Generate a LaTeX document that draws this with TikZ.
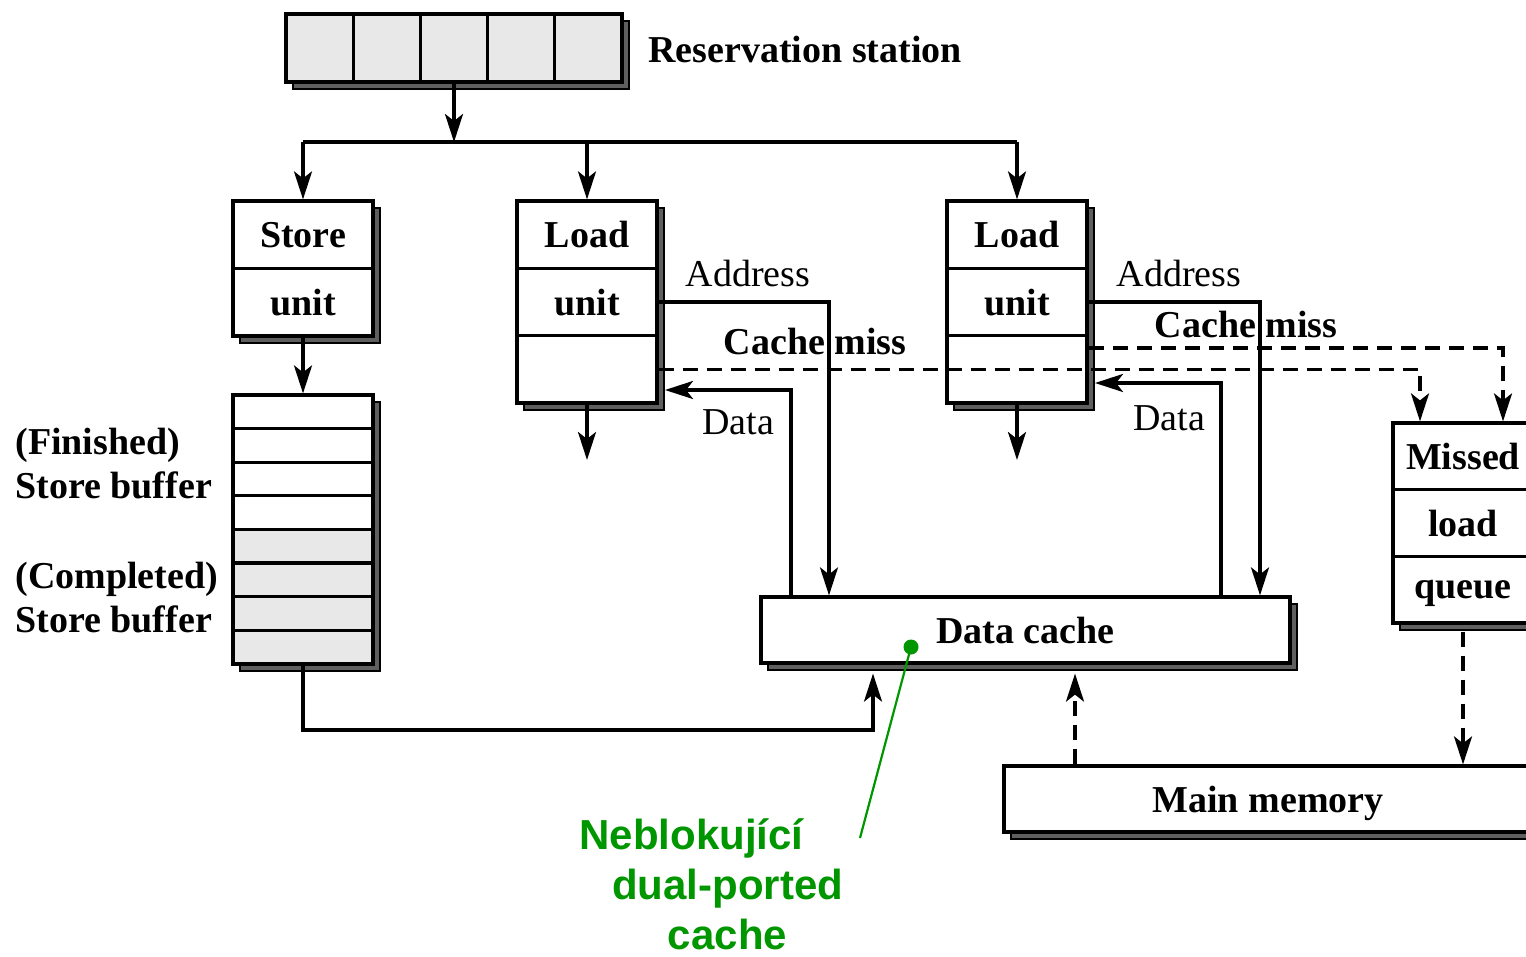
\documentclass[tikz,border=0pt]{standalone}
\usepackage{fontspec}
\setmainfont{Liberation Serif}
\newfontfamily\grfont{Liberation Sans}
\usetikzlibrary{arrows.meta,shadows}
\definecolor{cellgray}{RGB}{232,232,232}
\definecolor{shadowgray}{RGB}{95,95,95}
\definecolor{annot}{RGB}{0,150,0}
\begin{document}
\begin{tikzpicture}[x=0.5pt,y=-0.5pt,
  lw/.style={line width=1.6pt},
  frame/.style={draw, lw, fill=white, inner sep=0pt, text depth=0pt,
    copy shadow={fill=shadowgray, draw=black, line width=1.1pt, shadow xshift=3.5pt, shadow yshift=-3.5pt}},
  cell/.style={draw, lw, inner sep=0pt, text depth=0pt, font=\fontsize{19}{22}\selectfont\bfseries},
  lbl/.style={inner sep=0pt, font=\fontsize{19}{22}\selectfont},
  blbl/.style={inner sep=0pt, font=\fontsize{19}{22}\selectfont\bfseries},
  glbl/.style={inner sep=0pt, anchor=base, text=annot, font=\grfont\fontsize{21}{25}\selectfont\bfseries},
  arr/.style={lw, -{Stealth[length=14pt,width=9pt,inset=3.5pt]}},
  darr/.style={arr, dash pattern=on 7.5pt off 4.5pt},
]
\useasboundingbox (0,0) rectangle (1526,957);
\clip (0,0) rectangle (1526,957);

% Reservation station
\node[frame, fill=cellgray, minimum width=168pt, minimum height=34pt] (rs) at (454,48) {};
\foreach \i/\x in {1/319.6,2/386.8,3/454,4/521.2,5/588.4}
  \node[cell, fill=cellgray, minimum width=33.6pt, minimum height=34pt] (rs\i) at (\x,48) {};
\node[blbl, anchor=west] (rslbl) at (648,50) {Reservation station};

% Store unit
\node[frame, minimum width=70pt, minimum height=67.5pt] (su) at (303,268.5) {};
\node[cell, minimum width=70pt, minimum height=33.75pt] (su1) at (303,234.75) {Store};
\node[cell, minimum width=70pt, minimum height=33.75pt] (su2) at (303,302.25) {unit};

% Store buffer
\node[frame, minimum width=70pt, minimum height=134.5pt] (sb) at (303,529.5) {};
\foreach \k/\y/\f in {1/411.8/white,2/445.4/white,3/479.1/white,4/512.7/white,5/546.3/cellgray,6/579.9/cellgray,7/613.6/cellgray,8/647.2/cellgray}
  \node[cell, fill=\f, minimum width=70pt, minimum height=16.8125pt] (sb\k) at (303,\y) {};
\node[blbl, align=left, anchor=west] (finl) at (15,464) {(Finished)\\Store buffer};
\node[blbl, align=left, anchor=west] (coml) at (15,598) {(Completed)\\Store buffer};

% Load units
\node[frame, minimum width=70pt, minimum height=101pt] (lu1) at (587,302) {};
\node[cell, minimum width=70pt, minimum height=33.67pt] (lu1a) at (587,234.67) {Load};
\node[cell, minimum width=70pt, minimum height=33.67pt] (lu1u) at (587,302) {unit};
\node[cell, minimum width=70pt, minimum height=33.67pt] (lu1c) at (587,369.33) {};

\node[frame, minimum width=70pt, minimum height=101pt] (lu2) at (1017,302) {};
\node[cell, minimum width=70pt, minimum height=33.67pt] (lu2a) at (1017,234.67) {Load};
\node[cell, minimum width=70pt, minimum height=33.67pt] (lu2u) at (1017,302) {unit};
\node[cell, minimum width=70pt, minimum height=33.67pt] (lu2c) at (1017,369.33) {};

% Missed load queue
\node[frame, minimum width=70pt, minimum height=100pt] (mlq) at (1463,523) {};
\node[cell, minimum width=70pt, minimum height=33.33pt] (mlq1) at (1463,456.3) {Missed};
\node[cell, minimum width=70pt, minimum height=33.33pt] (mlq2) at (1463,523) {load};
\node[cell, minimum width=70pt, minimum height=33.33pt] (mlq3) at (1463,589.7) {queue};

% Data cache, main memory
\node[frame, minimum width=264.5pt, minimum height=33pt, font=\fontsize{19}{22}\selectfont\bfseries] (dc) at (1025.5,630) {Data cache};
\node[frame, minimum width=264pt, minimum height=33pt, font=\fontsize{19}{22}\selectfont\bfseries] (mm) at (1268,799) {Main memory};

% labels
\node[lbl] (ad1) at (748,274) {Address};
\node[lbl] (ad2) at (1179,274) {Address};
\node[blbl] (cml1) at (815,342) {Cache miss};
\node[blbl] (cml2) at (1246,325) {Cache miss};
\node[lbl] (dl1) at (738,422) {Data};
\node[lbl] (dl2) at (1169,418) {Data};

% bus from reservation station
\coordinate (bus) at (454,142);
\draw[arr] (rs.south) -- (bus);
\draw[lw] (bus -| su.north) -- (bus -| lu2.north);
\draw[arr] (bus -| su.north) -- (su.north);
\draw[arr] (bus -| lu1.north) -- (lu1.north);
\draw[arr] (bus -| lu2.north) -- (lu2.north);

\draw[arr] (su.south) -- (sb.north);
\coordinate (lo1) at (587,460);
\coordinate (lo2) at (1017,460);
\draw[arr] (lu1.south) -- (lo1);
\draw[arr] (lu2.south) -- (lo2);

% store buffer -> data cache
\coordinate (dcb) at ([yshift=-4.5pt]dc.south);
\coordinate (sbturn) at (303,730);
\coordinate (x873) at (873,0);
\draw[arr] (sb.south) -- (sbturn) -| (dcb -| x873);

% address lines
\coordinate (a1) at (829,0);
\coordinate (a2) at (1260,0);
\draw[arr] (lu1u.east) -| (dc.north -| a1);
\draw[arr] (lu2u.east) -| (dc.north -| a2);

% data lines
\coordinate (d1) at (791,390);
\coordinate (d1e) at (665,390);
\coordinate (d2) at (1221,383);
\coordinate (d2e) at (1095,383);
\draw[arr] (dc.north -| d1) |- (d1e);
\draw[arr] (dc.north -| d2) |- (d2e);

% cache miss lines
\coordinate (cm1) at (1420,0);
\coordinate (cm2) at (1503,348);
\draw[darr] (lu1c.east) -| (mlq.north -| cm1);
\draw[darr] (lu2.east |- cm2) -| (mlq.north -| cm2);

% missed load queue -> main memory, main memory -> data cache
\draw[darr] ([yshift=-3.5pt]mlq.south) -- (mm.north -| mlq.south);
\coordinate (mmup) at (1075,0);
\draw[darr] (mm.north -| mmup) -- (dcb -| mmup);

% annotation
\node[circle, fill=annot, inner sep=0pt, minimum size=7.5pt] (gdot) at (911,647) {};
\coordinate (gend) at (860,838);
\draw[annot, line width=1.1pt] (gdot.center) -- (gend);
\node[glbl] (g1) at (691.5,849) {Neblokující};
\node[glbl] (g2) at (727.5,899) {dual-ported};
\node[glbl] (g3) at (727.5,949) {cache};
\end{tikzpicture}
\end{document}
